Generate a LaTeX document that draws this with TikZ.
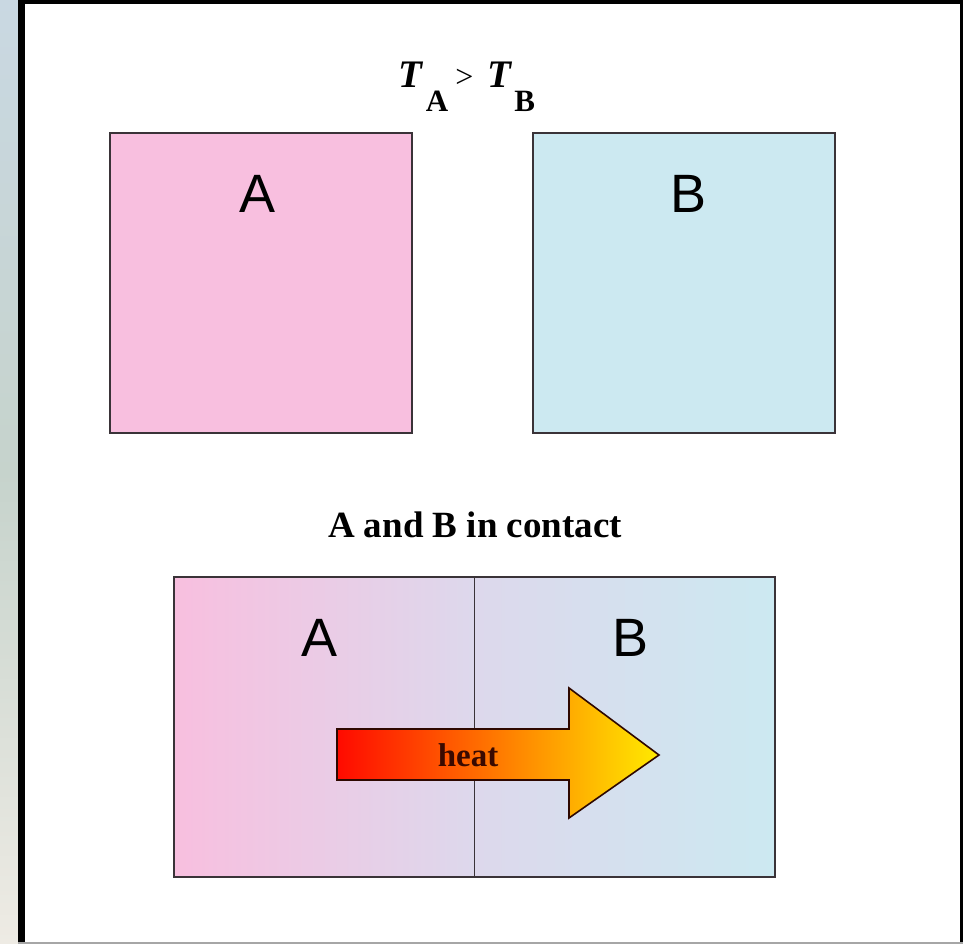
\documentclass[tikz,border=0pt]{standalone}
\usepackage{fontspec}
\setmainfont{Liberation Serif}
\newfontfamily\labelfont{Liberation Sans}
\usepackage{tikz}
\usetikzlibrary{positioning, calc}
\definecolor{hotpink}{HTML}{F8BFDF}
\definecolor{coldblue}{HTML}{CCE9F1}
\definecolor{mixlilac}{HTML}{DDD8EC}
\definecolor{edgedark}{HTML}{3A3338}
\definecolor{heatred}{HTML}{FF0A00}
\definecolor{heatyellow}{HTML}{FFEA00}
\definecolor{heattext}{HTML}{3A0A00}
\definecolor{skytop}{HTML}{C9D8E2}
\definecolor{skymid}{HTML}{C6D3CC}
\definecolor{sandlow}{HTML}{EEEBE4}
\newcommand{\tsub}[1]{\hspace{2pt}\raisebox{-24pt}{\fontsize{31}{31}\selectfont\bfseries #1}}
\tikzset{
  % Bodies A and B
  body/.style={
    draw=edgedark, fill=#1, line width=1.6pt,
    minimum width=302pt, minimum height=300pt,
    inner sep=0pt,
  },
  contactbody/.style={
    draw=edgedark, line width=1.6pt,
    left color=hotpink, right color=coldblue, middle color=mixlilac,
    minimum width=601pt, minimum height=300pt,
    inner sep=0pt,
  },
  % Labels
  bodylabel/.style={font=\labelfont\fontsize{54}{54}\selectfont, text=black, inner sep=0pt},
  caption/.style={font=\bfseries\fontsize{37}{37}\selectfont, text=black, inner sep=0pt},
  heatlabel/.style={font=\bfseries\fontsize{33}{33}\selectfont, text=heattext, inner sep=0pt},
  heatarrow/.style={draw=heattext!80!black, line width=1.6pt, line join=miter,
    left color=heatred, right color=heatyellow},
}

\begin{document}
\begin{tikzpicture}[x=1pt, y=-1pt]
  \useasboundingbox (0,0) rectangle (963,944);
  % backdrop and frame
  \shade[top color=skytop, bottom color=sandlow, middle color=skymid]
    (0,0) rectangle (20,944);
  \fill[black] (18,0) rectangle (963,942);
  \fill[white] (25,4) rectangle (959.5,942);
  \draw[gray!70, line width=1.5pt] (18,943) -- (963,943);

  % separate bodies
  \node[body=hotpink] (boxa) at (261,283) {};
  \node[body=coldblue] (boxb) at (684,283) {};
  \node[bodylabel] (la) at (258,194) {A};
  \node[bodylabel] (lb) at (688,194) {B};
  \node[caption, font=\fontsize{39}{39}\selectfont, anchor=base] (temps) at (467,88)
    {\textbf{\textit{T}}\tsub{A}\hspace{7pt}%
     {\fontsize{32}{32}\selectfont>}\hspace{14pt}%
     \textbf{\textit{T}}\tsub{B}};

  % bodies in contact
  \node[caption] (contact) at (475,525) {A and B in contact};
  \node[contactbody] (ab) at (474.5,727) {};
  \draw[edgedark, line width=1.8pt] (ab.north) -- (ab.south);
  \node[bodylabel] (ca) at (320,638) {A};
  \node[bodylabel] (cb) at (630,638) {B};

  \path[heatarrow] (337,729) -- (569,729) -- (569,688) -- (659,755)
    -- (569,818) -- (569,780) -- (337,780) -- cycle;
  \node[heatlabel] (heat) at (468,755) {heat};
\end{tikzpicture}
\end{document}
